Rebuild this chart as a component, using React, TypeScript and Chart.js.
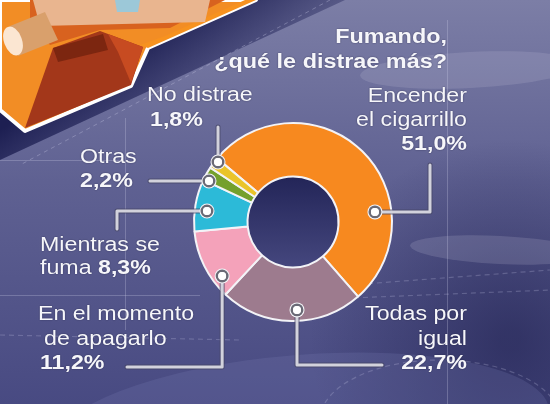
import React, { useEffect, useRef } from "react";
import { Chart, registerables } from "chart.js";

Chart.register(...registerables);

// ---------------- data ----------------
const categories = [
  "Encender el cigarrillo",
  "Todas por igual",
  "En el momento de apagarlo",
  "Mientras se fuma",
  "Otras",
  "No distrae",
];
const categoryLines = [
  ["Encender", "el cigarrillo"],
  ["Todas por", "igual"],
  ["En el momento", "de apagarlo"],
  ["Mientras se", "fuma"],
  ["Otras"],
  ["No distrae"],
];
const values = [51.0, 22.7, 11.2, 8.3, 2.2, 1.8];
const sliceColors = ["#F7891F", "#9D7B8E", "#F4A2BA", "#2CBAD8", "#74A02C", "#EAC42A"];
const titleLines = ["Fumando,", "¿qué le distrae más?"];

// ---------------- layout (positions / styles only) ----------------
type Step = ["h" | "v", number];
interface LabelLayout {
  anchorT: number; // fraction along the slice's angle
  anchorR: number; // fraction of the outer radius
  leader: Step[];
  x: number;
  y: number;
  align: "left" | "right";
  lineHeight: number;
  inlineValue: boolean;
  indents?: number[];
}

const LABEL_LAYOUT: LabelLayout[] = [
  { anchorT: 0.704, anchorR: 0.834, leader: [["h", 430], ["v", 165]], x: 467, y: 102, align: "right", lineHeight: 24, inlineValue: false },
  { anchorT: 0.458, anchorR: 0.889, leader: [["v", 365], ["h", 382]], x: 467, y: 320, align: "right", lineHeight: 24.5, inlineValue: false },
  { anchorT: 0.234, anchorR: 0.9, leader: [["v", 367], ["h", 127]], x: 38, y: 320, align: "left", lineHeight: 24.5, inlineValue: false, indents: [0, 6, 2] },
  { anchorT: 0.417, anchorR: 0.876, leader: [["h", 117], ["v", 229]], x: 40, y: 251, align: "left", lineHeight: 23, inlineValue: true },
  { anchorT: 0.1, anchorR: 0.944, leader: [["h", 150]], x: 80, y: 163, align: "left", lineHeight: 24, inlineValue: false },
  { anchorT: 0.8, anchorR: 0.97, leader: [["v", 127]], x: 147, y: 101, align: "left", lineHeight: 25, inlineValue: false, indents: [0, 3] },
];

const FONT = '"Liberation Sans", Arial, Helvetica, sans-serif';
const TEXT_STRETCH = 1.16;
const LABEL_SIZE = 20;

function fmt(v: number) {
  return v.toFixed(1).replace(".", ",") + "%";
}

function drawText(
  ctx: CanvasRenderingContext2D,
  text: string,
  x: number,
  y: number,
  align: "left" | "right",
  bold: boolean,
  size: number,
  stretch = TEXT_STRETCH
) {
  ctx.save();
  ctx.font = `${bold ? "bold " : ""}${size}px ${FONT}`;
  ctx.translate(x, y);
  ctx.scale(stretch, 1);
  ctx.textAlign = align;
  ctx.textBaseline = "alphabetic";
  ctx.shadowColor = "rgba(20,20,50,0.55)";
  ctx.shadowBlur = 2;
  ctx.fillStyle = "#f6f6fa";
  ctx.fillText(text, 0, 0);
  ctx.restore();
}

function textWidth(ctx: CanvasRenderingContext2D, text: string, bold: boolean, size: number) {
  ctx.save();
  ctx.font = `${bold ? "bold " : ""}${size}px ${FONT}`;
  const w = ctx.measureText(text).width * TEXT_STRETCH;
  ctx.restore();
  return w;
}

function poly(ctx: CanvasRenderingContext2D, pts: number[][], fill: string | CanvasGradient, stroke?: string, lw = 0) {
  ctx.beginPath();
  pts.forEach((p, i) => (i === 0 ? ctx.moveTo(p[0], p[1]) : ctx.lineTo(p[0], p[1])));
  ctx.closePath();
  ctx.fillStyle = fill;
  ctx.fill();
  if (stroke) {
    ctx.strokeStyle = stroke;
    ctx.lineWidth = lw;
    ctx.lineJoin = "round";
    ctx.stroke();
  }
}

function drawBackground(ctx: CanvasRenderingContext2D, w: number, h: number) {
  const g = ctx.createLinearGradient(0, 0, 0, h);
  g.addColorStop(0, "#7c7ea6");
  g.addColorStop(0.45, "#5f6192");
  g.addColorStop(1, "#484a82");
  ctx.fillStyle = g;
  ctx.fillRect(0, 0, w, h);

  // darker right side below the ring
  const r1 = ctx.createRadialGradient(510, 340, 10, 510, 340, 200);
  r1.addColorStop(0, "rgba(32,33,80,0.6)");
  r1.addColorStop(1, "rgba(32,33,80,0)");
  ctx.fillStyle = r1;
  ctx.fillRect(0, 0, w, h);

  // lighter swoosh bottom
  ctx.save();
  ctx.fillStyle = "rgba(125,128,180,0.22)";
  ctx.beginPath();
  ctx.ellipse(300, 430, 250, 75, -0.08, 0, Math.PI * 2);
  ctx.fill();
  ctx.restore();

  // lighter streaks top right
  ctx.save();
  ctx.globalAlpha = 0.18;
  ctx.fillStyle = "#c8cae0";
  ctx.beginPath();
  ctx.ellipse(470, 70, 110, 18, -0.05, 0, Math.PI * 2);
  ctx.fill();
  ctx.beginPath();
  ctx.ellipse(500, 250, 90, 14, 0.05, 0, Math.PI * 2);
  ctx.fill();
  ctx.restore();

  // faint dashed shapes
  ctx.save();
  ctx.strokeStyle = "rgba(200,200,230,0.25)";
  ctx.lineWidth = 1.2;
  ctx.setLineDash([5, 4]);
  ctx.beginPath();
  ctx.ellipse(440, 420, 120, 60, 0, Math.PI, Math.PI * 1.9);
  ctx.stroke();
  ctx.beginPath();
  ctx.moveTo(300, 300);
  ctx.lineTo(550, 290);
  ctx.moveTo(350, 285);
  ctx.lineTo(550, 270);
  ctx.moveTo(0, 335);
  ctx.lineTo(240, 340);
  ctx.stroke();
  ctx.setLineDash([]);
  // guide lines
  ctx.strokeStyle = "rgba(210,210,235,0.28)";
  ctx.lineWidth = 1;
  ctx.beginPath();
  ctx.moveTo(447.5, 20);
  ctx.lineTo(447.5, 404);
  ctx.moveTo(125.5, 118);
  ctx.lineTo(125.5, 330);
  ctx.moveTo(0, 160.5);
  ctx.lineTo(120, 160.5);
  ctx.moveTo(0, 295.5);
  ctx.lineTo(200, 295.5);
  ctx.stroke();
  ctx.restore();

  // navy band
  const nb = ctx.createLinearGradient(150, 30, 210, 120);
  nb.addColorStop(0, "#1d1f52");
  nb.addColorStop(1, "rgba(40,42,95,0.25)");
  poly(ctx, [[245, 0], [345, 0], [0, 160], [0, 100]], nb);
  ctx.save();
  ctx.strokeStyle = "rgba(200,200,230,0.35)";
  ctx.setLineDash([4, 4]);
  ctx.lineWidth = 1;
  ctx.beginPath();
  ctx.moveTo(330, 0);
  ctx.lineTo(20, 165);
  ctx.stroke();
  ctx.restore();

  // illustration (cigarette pack)
  poly(ctx, [[0, 0], [256, 0], [148, 48], [131, 86], [25, 131], [0, 110]], "#F28D25", "#ffffff", 4);
  poly(ctx, [[30, 0], [225, 0], [170, 28], [100, 30], [50, 45], [30, 20]], "#D8621F");
  poly(ctx, [[53, 48], [100, 31], [143, 47], [131, 85], [25, 128]], "#A3371A");
  poly(ctx, [[108, 34], [143, 47], [131, 83], [118, 52]], "#C74B21");
  poly(ctx, [[53, 48], [103, 34], [108, 50], [58, 62]], "#7C2610");
  poly(ctx, [[165, 36], [245, 0], [256, 0], [148, 48], [140, 45]], "#F7921F");
  // hand / tan area
  poly(ctx, [[33, 0], [210, 0], [205, 22], [40, 26]], "#E9B58F");
  poly(ctx, [[115, 0], [140, 0], [138, 12], [117, 12]], "#9CC8D8");
  // cigarette
  poly(ctx, [[10, 26], [45, 12], [58, 40], [18, 56]], "#D9A06C");
  ctx.fillStyle = "#FBE6D2";
  ctx.beginPath();
  ctx.ellipse(13, 41, 9, 15, -0.35, 0, Math.PI * 2);
  ctx.fill();
}

const decorPlugin = {
  id: "decor",
  beforeDraw(chart: any) {
    drawBackground(chart.ctx, chart.width, chart.height);
  },
  beforeDatasetsDraw(chart: any) {
    const arc = chart.getDatasetMeta(0).data[0];
    if (!arc) return;
    const ctx = chart.ctx as CanvasRenderingContext2D;
    const { x, y, innerRadius } = arc.getProps(["x", "y", "innerRadius"], true);
    const g = ctx.createLinearGradient(x, y - innerRadius, x, y + innerRadius);
    g.addColorStop(0, "#232558");
    g.addColorStop(1, "#45477e");
    ctx.save();
    ctx.fillStyle = g;
    ctx.beginPath();
    ctx.arc(x, y, innerRadius + 1, 0, Math.PI * 2);
    ctx.fill();
    ctx.restore();
  },
  afterDraw(chart: any) {
    const ctx = chart.ctx as CanvasRenderingContext2D;
    const meta = chart.getDatasetMeta(0);
    const anchors = meta.data.map((el: any, i: number) => {
      const p = el.getProps(["x", "y", "startAngle", "endAngle", "outerRadius"], true);
      const L = LABEL_LAYOUT[i];
      const a = p.startAngle + L.anchorT * (p.endAngle - p.startAngle);
      const r = p.outerRadius * L.anchorR;
      return { x: p.x + r * Math.cos(a), y: p.y + r * Math.sin(a) };
    });

    // leaders
    anchors.forEach((an: any, i: number) => {
      const L = LABEL_LAYOUT[i];
      const pts: number[][] = [[an.x, an.y]];
      let cx = an.x,
        cy = an.y;
      L.leader.forEach(([d, v]) => {
        if (d === "h") cx = v;
        else cy = v;
        pts.push([cx, cy]);
      });
      ctx.save();
      ctx.lineJoin = "round";
      ctx.lineCap = "round";
      [["rgba(70,70,100,0.7)", 5], ["#d2d2dc", 3]].forEach(([c, w]) => {
        ctx.strokeStyle = c as string;
        ctx.lineWidth = w as number;
        ctx.beginPath();
        pts.forEach((p, k) => (k === 0 ? ctx.moveTo(p[0], p[1]) : ctx.lineTo(p[0], p[1])));
        ctx.stroke();
      });
      ctx.restore();
    });

    // markers
    anchors.forEach((an: any) => {
      ctx.save();
      ctx.fillStyle = "#f4f4f8";
      ctx.beginPath();
      ctx.arc(an.x, an.y, 7.5, 0, Math.PI * 2);
      ctx.fill();
      ctx.strokeStyle = "#6a6a76";
      ctx.lineWidth = 2.5;
      ctx.beginPath();
      ctx.arc(an.x, an.y, 5.2, 0, Math.PI * 2);
      ctx.stroke();
      ctx.fillStyle = "#ffffff";
      ctx.beginPath();
      ctx.arc(an.x, an.y, 4, 0, Math.PI * 2);
      ctx.fill();
      ctx.restore();
    });

    // labels
    categoryLines.forEach((lines, i) => {
      const L = LABEL_LAYOUT[i];
      const val = fmt(values[i]);
      const ind = L.indents || [];
      lines.forEach((ln, k) => {
        const yy = L.y + k * L.lineHeight;
        const xx = L.x + (ind[k] || 0);
        if (L.inlineValue && k === lines.length - 1) {
          drawText(ctx, ln + " ", xx, yy, "left", false, LABEL_SIZE);
          const w = textWidth(ctx, ln + " ", false, LABEL_SIZE);
          drawText(ctx, val, xx + w, yy, "left", true, LABEL_SIZE);
        } else {
          drawText(ctx, ln, xx, yy, L.align, false, LABEL_SIZE);
        }
      });
      if (!L.inlineValue) {
        const k = lines.length;
        drawText(ctx, val, L.x + (ind[k] || 0), L.y + k * L.lineHeight, L.align, true, LABEL_SIZE);
      }
    });

    // title
    drawText(ctx, titleLines[0], 447, 43, "right", true, 20, 1.17);
    drawText(ctx, titleLines[1], 447, 68, "right", true, 20, 1.17);
  },
};

export default function App() {
  const ref = useRef<HTMLCanvasElement | null>(null);
  useEffect(() => {
    if (!ref.current) return;
    const chart = new Chart(ref.current, {
      type: "doughnut",
      data: {
        labels: categories,
        datasets: [
          {
            data: values,
            backgroundColor: sliceColors,
            borderColor: "#f3f3f7",
            borderWidth: 2,
          },
        ],
      },
      options: {
        responsive: false,
        animation: false,
        events: [],
        rotation: -50,
        cutout: "46%",
        layout: { padding: { left: 193, right: 157, top: 122, bottom: 82 } },
        plugins: {
          legend: { display: false },
          tooltip: { enabled: false },
          title: { display: false },
        },
      },
      plugins: [decorPlugin],
    });
    return () => chart.destroy();
  }, []);
  return (
    <div style={{ position: "fixed", left: 0, top: 0, width: 550, height: 404, overflow: "hidden" }}>
      <canvas ref={ref} width={550} height={404} style={{ display: "block", width: 550, height: 404 }} />
    </div>
  );
}
